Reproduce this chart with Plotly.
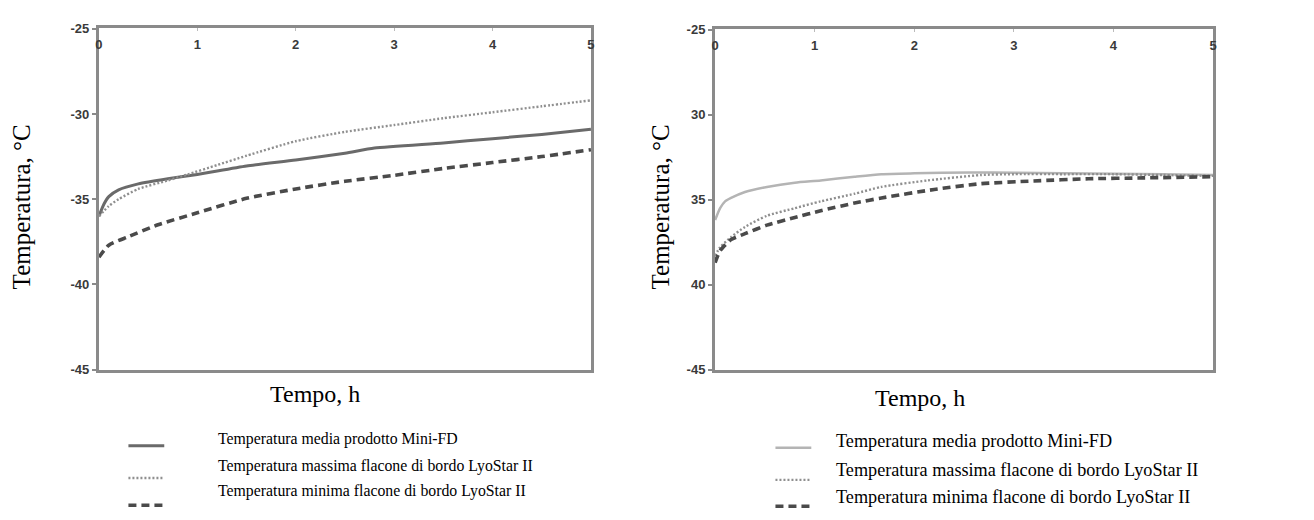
import plotly.graph_objects as go

# Mini-FD vs LyoStar II product temperatures, two runs (hours vs degC)
t_a_mean = [0, 0.05, 0.1, 0.2, 0.4, 0.7, 1.0, 1.5, 2.0, 2.5, 2.8, 3.5, 4.0, 4.5, 5.0]
a_mean = [-36.0, -35.3, -34.85, -34.45, -34.1, -33.8, -33.55, -33.05, -32.7, -32.3, -32.0, -31.7, -31.45, -31.2, -30.9]

t_a_max = [0, 0.1, 0.2, 0.4, 0.7, 0.9, 1.2, 1.5, 2.0, 2.5, 3.0, 3.5, 4.0, 4.5, 5.0]
a_max = [-36.0, -35.4, -35.0, -34.4, -33.9, -33.55, -33.0, -32.45, -31.6, -31.05, -30.65, -30.25, -29.9, -29.55, -29.2]

t_a_min = [0, 0.1, 0.3, 0.6, 1.0, 1.5, 2.0, 2.5, 3.0, 3.5, 4.0, 4.5, 5.0]
a_min = [-38.4, -37.7, -37.2, -36.5, -35.8, -34.95, -34.4, -33.95, -33.6, -33.2, -32.85, -32.5, -32.1]

t_b_mean = [0, 0.05, 0.1, 0.16, 0.3, 0.52, 0.8, 1.06, 1.4, 1.67, 2.0, 2.56, 3.0, 3.5, 4.0, 4.5, 5.0]
b_mean = [-36.2, -35.5, -35.1, -34.9, -34.55, -34.25, -34.0, -33.87, -33.65, -33.5, -33.45, -33.4, -33.42, -33.45, -33.48, -33.5, -33.55]

t_b_max = [0, 0.05, 0.16, 0.3, 0.52, 0.8, 1.06, 1.4, 1.67, 2.13, 2.67, 3.0, 3.5, 4.0, 4.5, 5.0]
b_max = [-38.3, -37.8, -37.2, -36.6, -35.95, -35.5, -35.1, -34.65, -34.25, -33.87, -33.55, -33.5, -33.5, -33.5, -33.55, -33.6]

t_b_min = [0, 0.05, 0.16, 0.3, 0.52, 0.8, 1.06, 1.4, 1.67, 2.2, 2.67, 3.2, 3.75, 4.3, 5.0]
b_min = [-38.7, -38.0, -37.35, -37.0, -36.5, -36.05, -35.65, -35.2, -34.9, -34.4, -34.06, -33.9, -33.77, -33.72, -33.65]

x_ticks = [0, 1, 2, 3, 4, 5]
y_ticks = [-25, -30, -35, -40, -45]
y_labels_a = ["-25", "-30", "-35", "-40", "-45"]
y_labels_b = ["-25", "30", "35", "40", "-45"]

series_names = [
    "Temperatura media prodotto Mini-FD",
    "Temperatura massima flacone di bordo LyoStar II",
    "Temperatura minima flacone di bordo LyoStar II",
]

W, H = 1314, 520
SERIF = "Liberation Serif, Times New Roman, serif"
TICKFONT = dict(family="Liberation Sans, Arial, sans-serif", size=13, color="#3a3a3a", weight="bold")
AXIS_GREY = "#8a8a8a"

style_a = [
    dict(color="#6a6a6a", width=3, dash="solid"),
    dict(color="#8f8f8f", width=2.4, dash="2px,2px"),
    dict(color="#4a4a4a", width=3.6, dash="8px,5px"),
]
style_b = [
    dict(color="#b4b4b4", width=2.5, dash="solid"),
    dict(color="#8f8f8f", width=2.4, dash="2px,2px"),
    dict(color="#4a4a4a", width=3.6, dash="8px,5px"),
]

fig = go.Figure()

panel_a = [(t_a_mean, a_mean), (t_a_max, a_max), (t_a_min, a_min)]
panel_b = [(t_b_mean, b_mean), (t_b_max, b_max), (t_b_min, b_min)]

for (tx, ty), st, name in zip(panel_a, style_a, series_names):
    fig.add_trace(go.Scatter(x=tx, y=ty, mode="lines", line=dict(shape="spline", smoothing=0.6, **st),
                             name=name, showlegend=False, xaxis="x", yaxis="y"))
for (tx, ty), st, name in zip(panel_b, style_b, series_names):
    fig.add_trace(go.Scatter(x=tx, y=ty, mode="lines", line=dict(shape="spline", smoothing=0.6, **st),
                             name=name, showlegend=False, xaxis="x2", yaxis="y2"))


def px_x(p):
    return p / W


def px_y(p):
    return 1 - p / H


def xaxis(domain, anchor):
    return dict(domain=domain, anchor=anchor, range=[-0.004, 5.004], side="top",
                tickvals=x_ticks, ticktext=[str(v) for v in x_ticks],
                ticks="inside", ticklen=3, tickcolor="#bbbbbb", tickwidth=1,
                ticklabelposition="inside", ticklabelstandoff=8, ticklabeloverflow="allow",
                showline=True, mirror=True, linecolor=AXIS_GREY, linewidth=2.5,
                showgrid=False, zeroline=False, tickfont=TICKFONT, fixedrange=True)


def yaxis(domain, anchor, labels):
    return dict(domain=domain, anchor=anchor, range=[-45.02, -24.98],
                tickvals=y_ticks, ticktext=labels, ticklabeloverflow="allow",
                ticks="outside", ticklen=4, tickcolor=AXIS_GREY, tickwidth=1.5,
                showline=True, mirror=True, linecolor=AXIS_GREY, linewidth=2.5,
                showgrid=False, zeroline=False, tickfont=TICKFONT, fixedrange=True)


fig.update_layout(
    width=W, height=H,
    margin=dict(l=0, r=0, t=0, b=0),
    paper_bgcolor="white", plot_bgcolor="white",
    showlegend=False,
    xaxis=xaxis([px_x(96), px_x(591)], "y"),
    yaxis=yaxis([px_y(373), px_y(22)], "x", y_labels_a),
    xaxis2=xaxis([px_x(715), px_x(1216)], "y2"),
    yaxis2=yaxis([px_y(373), px_y(23)], "x2", y_labels_b),
)

annotations = []
shapes = []

# axis titles
for cx, cy in [(19, 205), (660, 205)]:
    annotations.append(dict(x=px_x(cx), y=px_y(cy), xref="paper", yref="paper", text="Temperatura, °C",
                            textangle=-90, showarrow=False, xanchor="center", yanchor="middle",
                            font=dict(family=SERIF, size=25, color="black")))
for cx, cy in [(313, 398), (921, 402)]:
    annotations.append(dict(x=px_x(cx), y=px_y(cy), xref="paper", yref="paper", text="Tempo, h",
                            showarrow=False, xanchor="center", yanchor="middle",
                            font=dict(family=SERIF, size=24, color="black")))

# legend keys below each panel
legend_blocks = [
    dict(styles=style_a, x0=126, x1=162, tx=214, sym_y=[451, 484, 512], txt_y=[444, 472, 497], size=15.8),
    dict(styles=style_b, x0=776, x1=812, tx=835, sym_y=[453, 486, 513], txt_y=[446, 476, 504], size=18.2),
]
for blk in legend_blocks:
    for st, sy, ty, name in zip(blk["styles"], blk["sym_y"], blk["txt_y"], series_names):
        shapes.append(dict(type="line", xref="paper", yref="paper",
                           x0=px_x(blk["x0"]), x1=px_x(blk["x1"]), y0=px_y(sy), y1=px_y(sy),
                           line=dict(color=st["color"], width=st["width"], dash=st["dash"])))
        annotations.append(dict(x=px_x(blk["tx"]), y=px_y(ty), xref="paper", yref="paper", text=name,
                                showarrow=False, xanchor="left", yanchor="middle",
                                font=dict(family=SERIF, size=blk["size"], color="black")))

fig.update_layout(annotations=annotations, shapes=shapes)

fig.write_html("out.html")
